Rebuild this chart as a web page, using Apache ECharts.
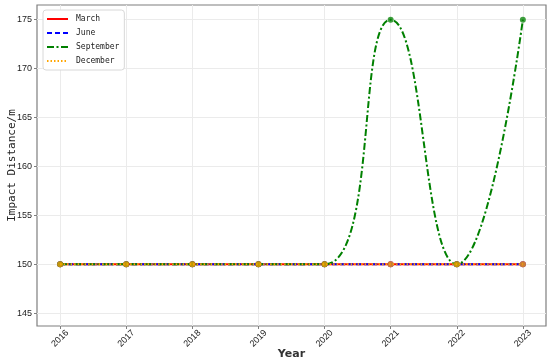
<!DOCTYPE html>
<html>
<head>
<meta charset="utf-8">
<script src="https://cdn.jsdelivr.net/npm/echarts@6/dist/echarts.min.js"></script>
<style>html,body{margin:0;padding:0;background:#fff}#c{width:550px;height:363px}</style>
</head>
<body>
<div id="c"></div>
<script>
var years = [2016, 2017, 2018, 2019, 2020, 2021, 2022, 2023];
var march = [150, 150, 150, 150, 150, 150, 150, 150];
var june = [150, 150, 150, 150, 150, 150, 150, 150];
var september = [150, 150, 150, 150, 150, 175, 150, 175];
var december = [150, 150, 150, 150, 150, 150, 150, 150];
var yTicks = [145, 150, 155, 160, 165, 170, 175];
var seriesNames = ['March', 'June', 'September', 'December'];

function pairs(vals) { return years.map(function (y, i) { return [y, vals[i]]; }); }

var chart = echarts.init(document.getElementById('c'), null, {renderer: 'canvas'});
var gray = '#7f7f7f';
var tickFont = {fontFamily: 'Liberation Sans, Arial, sans-serif', fontSize: 9, color: '#222'};
function mk(name, vals, color, type, z) {
  return {
    name: name, type: 'line', data: pairs(vals), smooth: name === 'September' ? 0.5 : false,
    symbol: 'circle', symbolSize: 6, showSymbol: true, z: z,
    itemStyle: {color: color, opacity: 0.75},
    lineStyle: {color: color, width: 2, type: type},
    emphasis: {disabled: true}, animation: false
  };
}
chart.setOption({
  animation: false,
  grid: {left: 37, right: 4, top: 5, bottom: 37, outerBoundsMode: 'none', containLabel: false,
         show: true, borderColor: gray, borderWidth: 1.2, backgroundColor: 'transparent'},
  legend: {
    show: true,
    data: seriesNames,
    orient: 'vertical', left: 43, top: 10, itemWidth: 21, itemHeight: 10, itemGap: 4,
    padding: [4, 5, 4, 3],
    itemStyle: {opacity: 0},
    backgroundColor: '#fff', borderColor: '#d8d8d8', borderWidth: 1, borderRadius: 3,
    textStyle: {fontFamily: 'DejaVu Sans Mono, monospace', fontSize: 8, lineHeight: 10, color: '#222', padding: [0, 0, 0, 3]}
  },
  xAxis: {
    type: 'value', min: 2015.65, max: 2023.35,
    name: 'Year', nameLocation: 'middle', nameGap: 23, nameMoveOverlap: false,
    nameTextStyle: {fontFamily: 'DejaVu Sans, sans-serif', fontSize: 11, fontWeight: 'bold', color: '#333'},
    axisLine: {show: false},
    axisTick: {show: true, customValues: years, length: 3, lineStyle: {color: gray}},
    axisLabel: Object.assign({customValues: years, rotate: 45, margin: 12.5, align: 'center', verticalAlign: 'middle',
                              formatter: function (v) { return String(v); }}, tickFont),
    splitLine: {show: true, customValues: years, lineStyle: {color: '#ebebeb', width: 1}}
  },
  yAxis: {
    type: 'value', min: 143.7, max: 176.5,
    name: 'Impact Distance/m', nameLocation: 'middle', nameGap: 19, nameMoveOverlap: false,
    nameTextStyle: {fontFamily: 'DejaVu Sans Mono, monospace', fontSize: 11, color: '#222'},
    axisLine: {show: false},
    axisTick: {show: true, customValues: yTicks, length: 3, lineStyle: {color: gray}},
    axisLabel: Object.assign({customValues: yTicks, margin: 5}, tickFont),
    splitLine: {show: true, customValues: yTicks, lineStyle: {color: '#ebebeb', width: 1}}
  },
  series: [
    mk('March', march, '#ff0000', 'solid', 2),
    mk('June', june, '#0000ff', [5, 3], 3),
    mk('September', september, '#008000', [7, 2.5, 2, 2.5], 4),
    mk('December', december, '#ffa500', [1.5, 2], 5)
  ]
});
</script>
</body>
</html>
